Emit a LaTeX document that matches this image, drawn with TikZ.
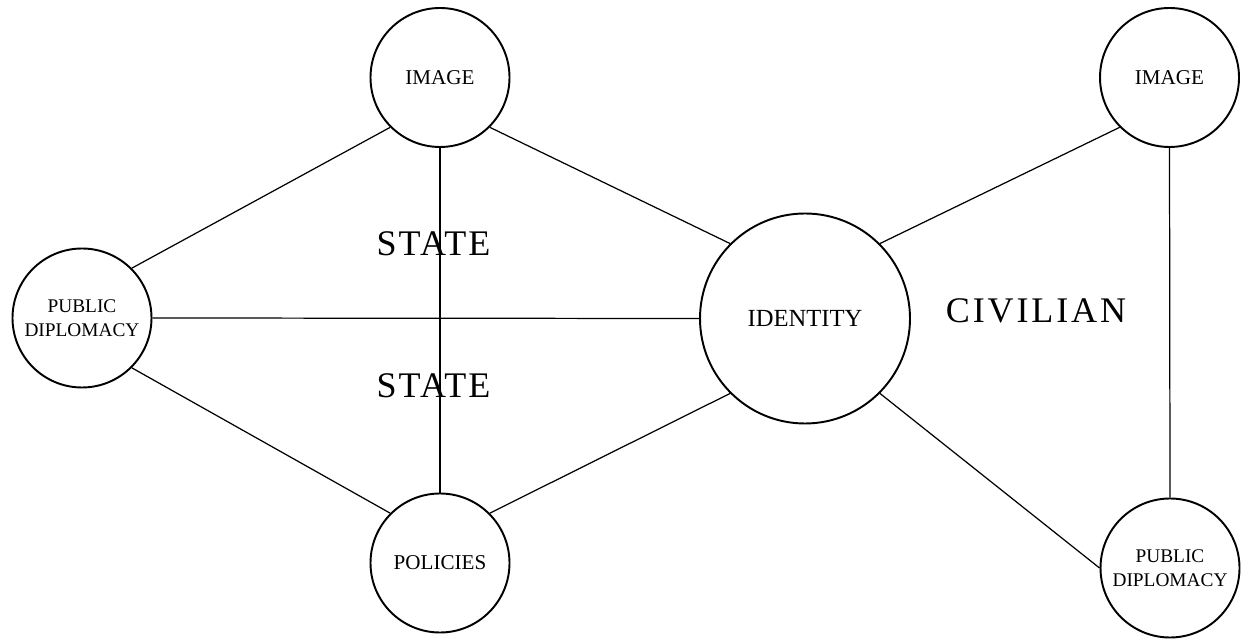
\documentclass[tikz,border=0pt]{standalone}
\usepackage{fontspec}
\setmainfont{Liberation Serif}
\begin{document}
\begin{tikzpicture}[
  bubble/.style={draw, circle, line width=1.1pt, inner sep=0pt, align=center, minimum size=2.78cm, font=\fontsize{12}{14}\selectfont},
  twoline/.style={font=\fontsize{11}{13.7}\selectfont},
  word/.style={inner sep=0pt, font=\fontsize{20.5}{24}\selectfont\addfontfeature{LetterSpace=6}},
  link/.style={line width=0.7pt}
]
\useasboundingbox (0,0) rectangle (24.92,-12.8);

% state side
\node[bubble] (imageL) at (8.80,-1.55) {IMAGE};
\node[bubble, twoline] (publicL) at (1.64,-6.36) {PUBLIC\\DIPLOMACY};
\node[bubble] (policies) at (8.80,-11.26) {POLICIES};
\node[bubble, minimum size=4.2cm, font=\fontsize{14}{16}\selectfont] (identity) at (16.10,-6.37) {IDENTITY};

% civilian side
\node[bubble] (imageR) at (23.39,-1.55) {IMAGE};
\node[bubble, twoline] (publicR) at (23.40,-11.36) {PUBLIC\\DIPLOMACY};

\node[word] (state1) at (8.67,-4.88) {STATE};
\node[word] (state2) at (8.67,-7.72) {STATE};
\node[word, font=\fontsize{20.5}{24}\selectfont\addfontfeature{LetterSpace=8}] (civilian) at (20.72,-6.21) {CIVILIAN};

\draw[link] (imageL.south west) -- (publicL.north east);
\draw[link] (imageL.south east) -- (identity.north west);
\draw[link] (imageL.south) -- (policies.north);
\draw[link] (publicL.east) -- (identity.west);
\draw[link] (publicL.south east) -- (policies.north west);
\draw[link] (policies.north east) -- (identity.south west);
\draw[link] (identity.north east) -- (imageR.south west);
\draw[link] (identity.south east) -- (publicR.west);
\draw[link] (imageR.south) -- (publicR.north);
\end{tikzpicture}
\end{document}
